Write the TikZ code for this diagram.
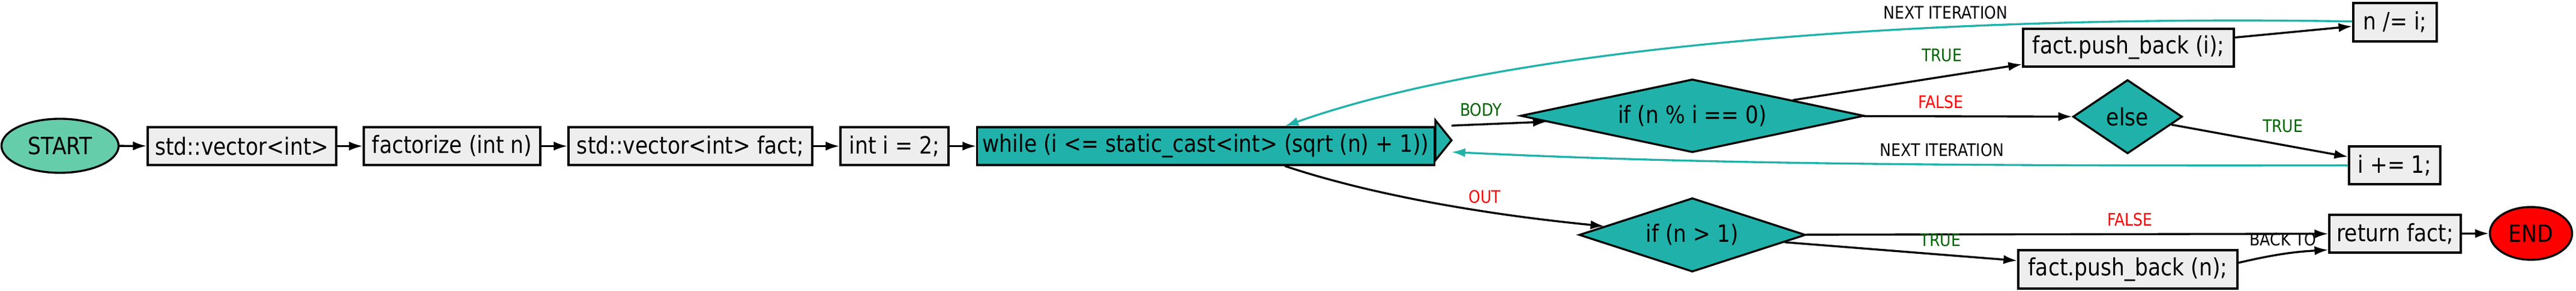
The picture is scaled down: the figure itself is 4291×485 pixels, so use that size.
\documentclass[tikz,border=0pt]{standalone}
\usepackage{fontspec}
\setmainfont{DejaVu Sans}[FakeStretch=0.87]
\usetikzlibrary{shapes.geometric,arrows.meta}
\definecolor{loopteal}{HTML}{20B2AA}
\definecolor{startgreen}{HTML}{66CDAA}
\definecolor{stmtgray}{HTML}{EEEEEE}
\definecolor{truegreen}{HTML}{006400}
\newcommand{\boxfont}{\fontsize{11.3}{13.5}\selectfont}
\newcommand{\lblfont}{\fontsize{8.2}{10}\selectfont}

\begin{document}
\begin{tikzpicture}[x=0.01cm,y=0.01cm,line width=0.95pt,>={Latex[length=6.5pt,width=4.3pt]},
  terminal/.style={ellipse, draw, font=\boxfont, inner sep=0pt},
  stmt/.style={rectangle, draw, fill=stmtgray, font=\boxfont, minimum height=0.63cm, inner xsep=0.12cm},
  cond/.style={diamond, draw, fill=loopteal, font=\boxfont, inner sep=0pt},
  lbl/.style={font=\lblfont},
  loopback/.style={->, draw=loopteal}]
  \useasboundingbox (0,0) rectangle (4291,485);

  % main line
  \node[terminal, fill=startgreen, minimum width=1.95cm, minimum height=0.9cm] (start) at (100,242) {START};
  \node[stmt, minimum width=3.14cm] (vec) at (403,241.5) {std::vector<int>};
  \node[stmt, minimum width=2.94cm] (fac) at (753,241.5) {factorize (int n)};
  \node[stmt, minimum width=4.06cm] (decl) at (1150,241.5) {std::vector<int> fact;};
  \node[stmt, minimum width=1.8cm] (init) at (1490,241.5) {int i = 2;};
  \node[stmt, fill=loopteal, minimum width=7.61cm, minimum height=0.47cm, inner xsep=0pt] (while) at (2008.5,241.5) {while (i <= static\_cast<int> (sqrt (n) + 1))};
  \draw[fill=loopteal] (while.north east) ++(0,10) -- ++(27,-33.5) coordinate (whiletip) -- ++(-27,-33.5) -- cycle;

  % loop body
  \node[cond, aspect=4.7, minimum width=5.72cm, minimum height=1.22cm] (cond1) at (2819,292) {if (n \% i == 0)};
  \node[stmt, minimum width=3.51cm] (pushi) at (3545.5,405.5) {fact.push\_back (i);};
  \node[stmt, minimum width=1.39cm, minimum height=0.64cm] (ndiv) at (3989.5,448) {n /= i;};
  \node[cond, aspect=1.48, minimum width=1.82cm, minimum height=1.23cm] (els) at (3544,290.5) {else};
  \node[stmt, minimum width=1.52cm] (inc) at (3989,209.5) {i += 1;};

  % after the loop
  \node[cond, aspect=3.07, minimum width=3.77cm, minimum height=1.23cm] (cond2) at (2819,93.5) {if (n > 1)};
  \node[stmt, minimum width=3.65cm, minimum height=0.64cm] (pushn) at (3544.5,36) {fact.push\_back (n);};
  \node[stmt, minimum width=2.19cm] (ret) at (3989.5,95.5) {return fact;};
  \node[terminal, fill=red, minimum width=1.37cm, minimum height=0.88cm] (fin) at (4216,96) {END};

  \draw[->] (start) -- (vec);
  \draw[->] (vec) -- (fac);
  \draw[->] (fac) -- (decl);
  \draw[->] (decl) -- (init);
  \draw[->] (init) -- (while);
  \draw[->] ([yshift=0.245cm]whiletip) -- node[lbl, above, pos=0.31, text=truegreen] (lbody) {BODY} (cond1);
  \draw[->] (cond1) -- node[lbl, above=0.12cm, pos=0.65, text=truegreen] (ltrue1) {TRUE} (pushi);
  \draw[->] (cond1) -- node[lbl, above, pos=0.37, text=red] (lfalse1) {FALSE} (els);
  \draw[->] (pushi) -- (ndiv);
  \draw[->] (els) -- node[lbl, above=2pt, pos=0.63, text=truegreen] (ltrue2) {TRUE} (inc);
  \draw[loopback] (ndiv) .. controls (3300,460) and (2550,420) .. ([xshift=1.315cm]while.north) node[lbl, pos=0.35, above] (lnext1) {NEXT ITERATION};
  \draw[loopback] (inc) .. controls (3200,208) and (2800,213) .. ([yshift=-0.195cm]whiletip) node[lbl, pos=0.37, above] (lnext2) {NEXT ITERATION};
  \draw[->] ([xshift=1.315cm]while.south) .. controls (2300,155) and (2500,125) .. (cond2) node[lbl, pos=0.63, above, text=red] (lout) {OUT};
  \draw[->] (cond2) -- node[lbl, above, pos=0.62, text=red] (lfalse2) {FALSE} (ret);
  \draw[->] (cond2) -- node[lbl, above, pos=0.67, text=truegreen] (ltrue3) {TRUE} (pushn);
  \draw[->] ([yshift=0.11cm]pushn.east) to[bend left=5] node[lbl, above, pos=0.5] (lback) {BACK TO} ([yshift=-0.27cm]ret.west);
  \draw[->] (ret) -- (fin);
\end{tikzpicture}
\end{document}
